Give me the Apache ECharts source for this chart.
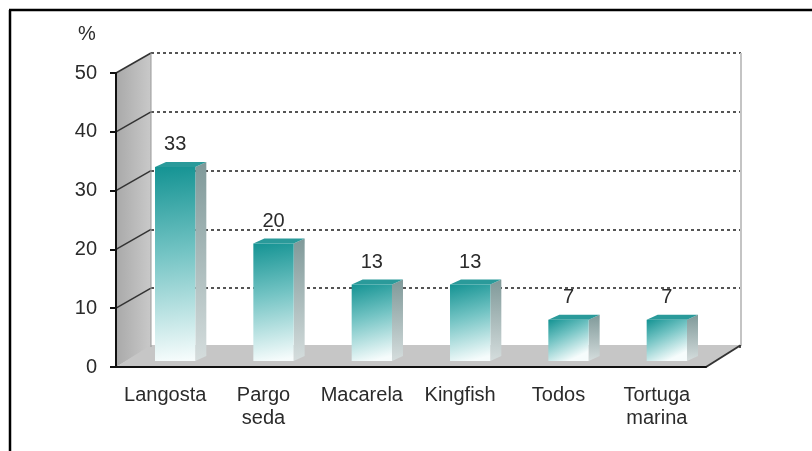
<!DOCTYPE html>
<html>
<head>
<meta charset="utf-8">
<script src="https://cdn.jsdelivr.net/npm/echarts@6/dist/echarts.min.js"></script>
<style>
  html, body { margin: 0; padding: 0; background: #fff; }
  #chart { width: 812px; height: 451px; }
</style>
</head>
<body>
<div id="chart"></div>
<script>
// datos
var especies = ['Langosta', 'Pargo\nseda', 'Macarela', 'Kingfish', 'Todos', 'Tortuga\nmarina'];
var porcentaje = [33, 20, 13, 13, 7, 7];
var yMax = 50;
var yStep = 10;

// profundidad del efecto 3D
var DX = 35, DY = -20;
var FONT = 'Liberation Sans, Arial, sans-serif';
var TXT = '#2b2b2b';

var myChart = echarts.init(document.getElementById('chart'));

// paredes: lateral y piso
function renderWalls(params, api) {
  var cs = params.coordSys;
  var x0 = cs.x, x1 = cs.x + cs.width;
  var yBase = api.coord([0, 0])[1];
  var yTop = api.coord([0, yMax])[1];
  var kids = [];
  kids.push({
    type: 'polygon',
    shape: { points: [[x0, yTop], [x0 + DX, yTop + DY], [x0 + DX, yBase + DY], [x0, yBase]] },
    style: { fill: { type: 'linear', x: 0, y: 0, x2: 1, y2: 0,
      colorStops: [{ offset: 0, color: '#a9a9a9' }, { offset: 1, color: '#c9c9c9' }] } }
  });
  for (var v = yStep; v <= yMax; v += yStep) {
    var y = api.coord([0, v])[1];
    kids.push({ type: 'line', shape: { x1: x0, y1: y, x2: x0 + DX, y2: y + DY },
      style: { stroke: '#333', lineWidth: 1.5 } });
  }
  // piso (cubre la línea punteada del 0)
  kids.push({
    type: 'polygon',
    shape: { points: [[x0, yBase], [x0 + DX, yBase + DY - 2], [x1 + DX, yBase + DY - 2], [x1, yBase]] },
    style: { fill: '#c6c6c6' }
  });
  kids.push({ type: 'line', shape: { x1: x1, y1: yBase, x2: x1 + DX, y2: yBase + DY - 2 },
    style: { stroke: '#333', lineWidth: 2 } });
  kids.push({ type: 'line', shape: { x1: x1 + DX, y1: yTop + DY, x2: x1 + DX, y2: yBase + DY - 2 },
    style: { stroke: '#c4c4c4', lineWidth: 2 } });
  kids.push({ type: 'line', shape: { x1: x0 + DX, y1: yTop + DY, x2: x0 + DX, y2: yBase + DY },
    style: { stroke: '#999', lineWidth: 1 } });
  return { type: 'group', children: kids };
}

// barras 3D
function renderBar(params, api) {
  var i = api.value(0), v = api.value(1);
  var top = api.coord([i, v]);
  var base = api.coord([i, 0]);
  var band = api.size([1, 0])[0];
  var w = band * 0.41;
  var bx = 10, by = -6, dxb = 11, dyb = -5;
  var cx = top[0] + bx;
  var xl = cx - w / 2, xr = cx + w / 2;
  var yt = top[1] + by, yb = base[1] + by;
  return {
    type: 'group',
    children: [
      { type: 'polygon', shape: { points: [[xr, yt], [xr + dxb, yt + dyb], [xr + dxb, yb + dyb], [xr, yb]] },
        style: { fill: { type: 'linear', x: 0, y: 0, x2: 0, y2: 1,
          colorStops: [{ offset: 0, color: '#7f9999' }, { offset: 1, color: '#d5dddd' }] } } },
      { type: 'polygon', shape: { points: [[xl, yt], [xl + dxb, yt + dyb], [xr + dxb, yt + dyb], [xr, yt]] },
        style: { fill: '#2a9a9a' } },
      { type: 'rect', shape: { x: xl, y: yt, width: w, height: yb - yt },
        style: { fill: { type: 'linear', x: 0, y: 0, x2: 0.5, y2: 1,
          colorStops: [{ offset: 0, color: '#149393' }, { offset: 0.45, color: '#74c4c4' }, { offset: 1, color: '#f6fcfc' }] } } },
      { type: 'text', x: cx, y: yt - 22,
        style: { text: String(v), fill: TXT, font: '20px ' + FONT, align: 'center', verticalAlign: 'middle' } }
    ]
  };
}

myChart.setOption({
  animation: false,
  title: {
    text: '%', left: 73, top: 19,
    textStyle: { fontSize: 20, fontWeight: 'normal', color: TXT, fontFamily: FONT }
  },
  grid: [
    { left: 116, right: 106, top: 73, bottom: 84 },
    { left: 151, right: 71, top: 53, bottom: 104 }
  ],
  xAxis: [
    {
      type: 'category', gridIndex: 0, data: especies, z: 5,
      axisLine: { lineStyle: { color: '#111', width: 2 } },
      axisTick: { length: 7, lineStyle: { color: '#111', width: 2 } },
      axisLabel: { color: TXT, fontSize: 20, fontFamily: FONT, margin: 17, lineHeight: 23, interval: 0 }
    },
    { type: 'category', gridIndex: 1, data: especies, show: false }
  ],
  yAxis: [
    {
      type: 'value', gridIndex: 0, min: 0, max: yMax, interval: yStep, z: 5,
      axisLine: { show: true, lineStyle: { color: '#111', width: 2 } },
      axisTick: { show: true, length: 6, lineStyle: { color: '#111', width: 2 } },
      axisLabel: { color: TXT, fontSize: 20, fontFamily: FONT, margin: 19 },
      splitLine: { show: false }
    },
    {
      type: 'value', gridIndex: 1, min: 0, max: yMax, interval: yStep,
      axisLine: { show: false }, axisTick: { show: false }, axisLabel: { show: false },
      splitLine: { show: true, lineStyle: { color: '#555', width: 2, type: [3, 3] } }
    }
  ],
  series: [
    {
      type: 'custom', xAxisIndex: 0, yAxisIndex: 0, z: 2, silent: true,
      renderItem: renderWalls, data: [[0, 0]]
    },
    {
      type: 'custom', xAxisIndex: 0, yAxisIndex: 0, z: 3,
      renderItem: renderBar,
      data: porcentaje.map(function (v, i) { return [i, v]; })
    }
  ],
  graphic: [
    { type: 'line', shape: { x1: 9, y1: 10, x2: 812, y2: 10 }, style: { stroke: '#000', lineWidth: 2.5 } },
    { type: 'line', shape: { x1: 10, y1: 10, x2: 10, y2: 451 }, style: { stroke: '#000', lineWidth: 2.5 } }
  ]
});
</script>
</body>
</html>
